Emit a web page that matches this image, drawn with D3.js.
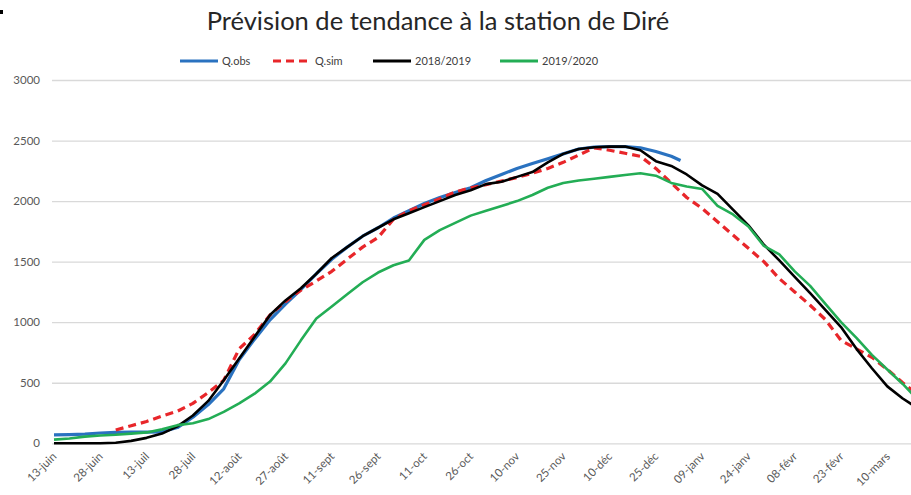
<!DOCTYPE html>
<html>
<head>
<meta charset="utf-8">
<script src="https://cdn.jsdelivr.net/npm/d3@7"></script>
<style>
  body { margin: 0; background: #fff; }
  text { font-family: Lato, "Open Sans", sans-serif; }
</style>
</head>
<body>
<svg id="chart"></svg>
<script>
// days counted from 13-juin
const days = [0,5,10,15,20,25,30,35,40,45,50,55,60,65,70,75,80,85,90,95,100,105,110,115,120,125,130,135,140,145,150,155,160,165,170,175,180,185,190,195,200,205,210,215,220,225,230,235,240,245,250,255,260,265,270,275,278];

const obsDays = [0,5,10,15,20,25,30,35,40,45,50,55,60,65,70,75,80,85,90,95,100,105,110,115,120,125,130,135,140,145,150,155,160,165,170,175,180,185,190,195,200,203];
const qObs = [70,72,75,85,90,92,92,95,130,215,320,450,690,860,1020,1150,1270,1400,1520,1620,1710,1780,1860,1920,1980,2030,2070,2110,2170,2220,2270,2310,2350,2390,2430,2445,2450,2450,2440,2410,2370,2335];

const qSim = [null,null,null,null,110,145,180,225,265,330,420,520,780,900,1060,1170,1265,1340,1420,1520,1620,1700,1850,1920,1970,2020,2075,2110,2135,2165,2195,2230,2270,2320,2380,2440,2420,2395,2370,2270,2150,2030,1940,1830,1720,1610,1500,1360,1250,1140,1020,850,780,710,610,500,440];

const y2018 = [0,0,0,0,5,20,45,80,140,230,350,520,700,880,1060,1180,1280,1400,1530,1620,1710,1780,1850,1900,1950,2000,2050,2090,2140,2160,2200,2240,2320,2390,2430,2445,2450,2450,2420,2330,2290,2220,2130,2060,1930,1800,1640,1510,1375,1240,1100,960,780,620,470,370,320];

const y2019 = [30,40,55,65,70,80,90,115,150,165,200,260,330,410,510,660,850,1030,1130,1230,1330,1410,1470,1510,1680,1760,1820,1880,1920,1960,2000,2050,2110,2150,2170,2185,2200,2215,2230,2210,2150,2120,2100,1960,1890,1790,1630,1560,1420,1300,1150,1000,870,730,610,490,410];

const xLabels = ["13-juin","28-juin","13-juil","28-juil","12-août","27-août","11-sept","26-sept","11-oct","26-oct","10-nov","25-nov","10-déc","25-déc","09-janv","24-janv","08-févr","23-févr","10-mars"];
const yTicks = [0,500,1000,1500,2000,2500,3000];

const seriesNames = ["Q.obs","Q.sim","2018/2019","2019/2020"];
const seriesColors = ["#2a72c0","#e8262a","#000000","#23ad55"];

const width = 911, height = 495;
const margin = {top: 80, right: 0, bottom: 52, left: 52};

const svg = d3.select("#chart")
    .attr("width", width)
    .attr("height", height);

// small mark in the top-left corner of the original picture
svg.append("rect").attr("x", 0).attr("y", 10).attr("width", 3).attr("height", 4).attr("fill", "#000");

const x = d3.scaleLinear()
    .domain([0, 278])
    .range([54, 912]);

const y = d3.scaleLinear()
    .domain([0, 3000])
    .range([443.3, 80]);

// gridlines + y labels
const yAxis = svg.append("g")
    .attr("transform", `translate(${margin.left},0)`)
    .call(d3.axisLeft(y).tickValues(yTicks).tickFormat(d3.format("d")).tickSize(-(width - margin.left)).tickPadding(12));
yAxis.select(".domain").remove();
yAxis.selectAll("line").attr("stroke", "#d9d9d9").attr("stroke-width", 1.3);
yAxis.selectAll("text").attr("fill", "#595959").style("font-size", "11.5px");

// x labels
const xAxis = svg.append("g")
    .attr("transform", `translate(0,${y(0)})`)
    .call(d3.axisBottom(x).tickValues(xLabels.map((d, i) => i * 15)).tickFormat((d, i) => xLabels[i]).tickSize(0));
xAxis.select(".domain").remove();
xAxis.selectAll("text")
    .attr("x", 0).attr("y", 0)
    .attr("dy", "0.35em")
    .attr("text-anchor", "end")
    .attr("transform", "translate(0,11) rotate(-45)")
    .attr("fill", "#595959")
    .style("font-size", "11.5px");

const plot = svg.append("g");

const line = d3.line()
    .defined(d => d[1] != null)
    .x(d => x(d[0]))
    .y(d => y(d[1]));

const series = [
    {data: d3.zip(obsDays, qObs), width: 3.2, dash: null},
    {data: d3.zip(days, qSim), width: 3.2, dash: "8,5"},
    {data: d3.zip(days, y2018), width: 2.6, dash: null},
    {data: d3.zip(days, y2019), width: 2.6, dash: null}
];

series.forEach((s, i) => {
    plot.append("path")
        .datum(s.data)
        .attr("d", line)
        .attr("fill", "none")
        .attr("stroke", seriesColors[i])
        .attr("stroke-width", s.width)
        .attr("stroke-dasharray", s.dash)
        .attr("stroke-linejoin", "round");
});

// title
svg.append("text")
    .attr("x", 438)
    .attr("y", 30)
    .attr("text-anchor", "middle")
    .attr("fill", "#262626")
    .style("font-size", "25.5px")
    .text("Prévision de tendance à la station de Diré");

// legend
const legendX = [180, 273, 373, 500];
const legend = svg.append("g");
seriesNames.forEach((name, i) => {
    legend.append("line")
        .attr("x1", legendX[i]).attr("x2", legendX[i] + 38)
        .attr("y1", 61).attr("y2", 61)
        .attr("stroke", seriesColors[i])
        .attr("stroke-width", 3.2)
        .attr("stroke-dasharray", i === 1 ? "8,5" : null);
    legend.append("text")
        .attr("x", legendX[i] + 42)
        .attr("y", 61)
        .attr("dy", "0.35em")
        .attr("fill", "#404040")
        .style("font-size", "11px")
        .text(name);
});
</script>
</body>
</html>
